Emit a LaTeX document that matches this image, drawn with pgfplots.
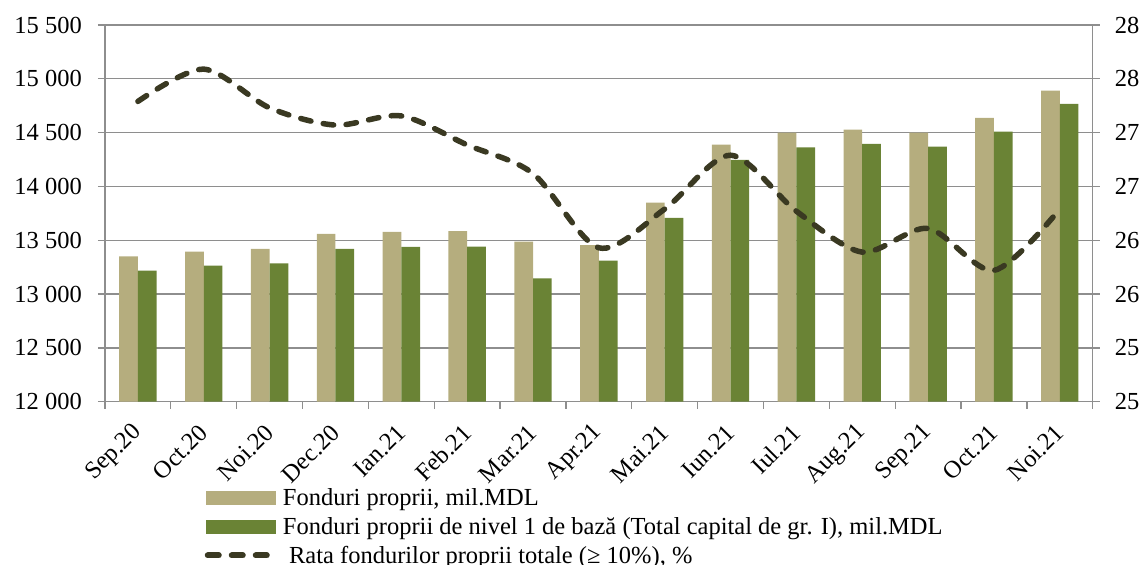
\documentclass[border=0pt]{standalone}
\usepackage{pgfplots}
\pgfplotsset{compat=1.18}
\usepackage{fontspec}
\setmainfont{Liberation Serif}
\definecolor{beige}{RGB}{181,173,126}
\definecolor{olive}{RGB}{106,131,53}
\definecolor{linec}{RGB}{58,57,34}
\definecolor{gridc}{RGB}{142,142,142}
\newcommand{\f}{\fontsize{24.5bp}{28bp}\selectfont}
\begin{document}
\begin{tikzpicture}
\useasboundingbox (-105bp,-163.3bp) rectangle (1040bp,401.7bp);
\begin{axis}[
  at={(0,0)}, anchor=south west,
  scale only axis, width=987.7bp, height=376.7bp,
  xmin=-0.5, xmax=14.5, ymin=12000, ymax=15500,
  scaled y ticks=false,
  ytick={12000,12500,...,15500},
  yticklabels={12 000,12 500,13 000,13 500,14 000,14 500,15 000,15 500},
  xtick={0,...,14},
  xticklabels={Sep.20,Oct.20,Noi.20,Dec.20,Ian.21,Feb.21,Mar.21,Apr.21,Mai.21,Iun.21,Iul.21,Aug.21,Sep.21,Oct.21,Noi.21},
  minor xtick={-0.5,0.5,...,14.5},
  major x tick style={draw=none},
  tick pos=left,
  tick align=outside,
  major tick length=7bp, minor tick length=7bp,
  tick style={gridc, line width=1.3bp},
  ymajorgrids, grid style={gridc, line width=1.3bp},
  axis line style={gridc, line width=1.3bp},
  yticklabel style={font=\f, anchor=east, inner sep=0pt, xshift=-16bp},
  xticklabel style={font=\f, inner sep=0pt, xshift=0bp, yshift=-20bp, rotate=45, anchor=east},
  ybar=0pt, bar width=18.7bp,
  clip=true,
]
\addplot[fill=beige, draw=none] coordinates {(0,13351) (1,13394) (2,13419) (3,13559) (4,13577) (5,13584) (6,13487) (7,13454) (8,13849) (9,14388) (10,14500) (11,14528) (12,14500) (13,14637) (14,14890)};
\addplot[fill=olive, draw=none] coordinates {(0,13218) (1,13264) (2,13286) (3,13419) (4,13438) (5,13441) (6,13147) (7,13310) (8,13707) (9,14246) (10,14364) (11,14395) (12,14370) (13,14509) (14,14767)};
\end{axis}
\begin{axis}[
  at={(0,0)}, anchor=south west,
  scale only axis, width=987.7bp, height=376.7bp,
  xmin=-0.5, xmax=14.5, ymin=24.5, ymax=28,
  axis x line=none, axis y line*=right,
  ytick={24.5,25,...,28},
  yticklabels={25,25,26,26,27,27,28,28},
  tick align=outside,
  major tick length=7bp,
  tick style={gridc, line width=1.3bp},
  axis line style={gridc, line width=1.3bp},
  yticklabel style={font=\f, anchor=west, inner sep=0pt, xshift=15bp},
  legend style={at={(axis description cs:0.101,-0.2158)}, anchor=north west,
    draw=none, fill=none, inner sep=0pt, outer sep=0pt, row sep=0pt, column sep=8bp,
    font=\f, nodes={inner sep=0pt, text height=22.6bp, text depth=6.4bp}},
  legend cell align=left,
]
\addlegendimage{legend image code/.code={\fill[beige] (0bp,-6.5bp) rectangle (68.3bp,6.5bp);}}
\addlegendentry{Fonduri proprii, mil.MDL}
\addlegendimage{legend image code/.code={\fill[olive] (0bp,-6.5bp) rectangle (68.3bp,6.5bp);}}
\addlegendentry{Fonduri proprii de nivel 1 de bază (Total capital de gr. I), mil.MDL}
\addplot[linec, line width=5.5bp, dash pattern=on 10.5bp off 12.5bp, line cap=round, smooth,
  legend image code/.code={\path[draw=none,fill=none] (0bp,-6.5bp) rectangle (68.3bp,6.5bp);
    \draw[linec, solid, line width=6bp, dash pattern=on 11bp off 13bp, line cap=round, sharp plot] (1.3bp,0bp) -- (60.5bp,0bp);}]
 coordinates {(0,27.29) (1,27.59) (2,27.23) (3,27.07) (4,27.155) (5,26.886) (6,26.62) (7,25.93) (8,26.29) (9,26.79) (10,26.27) (11,25.89) (12,26.11) (13,25.72) (14,26.29)};
\addlegendentry{\ Rata fondurilor proprii totale (≥ 10\%), \%}
\end{axis}
\end{tikzpicture}
\end{document}
